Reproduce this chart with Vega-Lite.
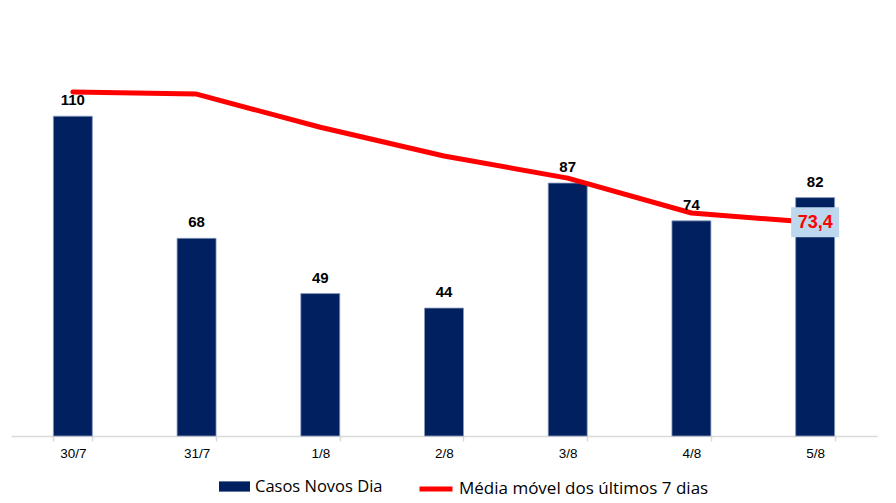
{
  "$schema": "https://vega.github.io/schema/vega-lite/v6.json",
  "width": 866,
  "height": 407,
  "padding": {"left": 11, "top": 29, "right": 19, "bottom": 5},
  "background": "white",
  "data": {
    "values": [
      {"dia": "30/7", "casos": 110, "media": 118.3, "serieA": "Casos Novos Dia", "serieB": "Média móvel dos últimos 7 dias"},
      {"dia": "31/7", "casos": 68, "media": 117.6, "serieA": "Casos Novos Dia", "serieB": "Média móvel dos últimos 7 dias"},
      {"dia": "1/8", "casos": 49, "media": 106.2, "serieA": "Casos Novos Dia", "serieB": "Média móvel dos últimos 7 dias"},
      {"dia": "2/8", "casos": 44, "media": 96.3, "serieA": "Casos Novos Dia", "serieB": "Média móvel dos últimos 7 dias"},
      {"dia": "3/8", "casos": 87, "media": 88.7, "serieA": "Casos Novos Dia", "serieB": "Média móvel dos últimos 7 dias"},
      {"dia": "4/8", "casos": 74, "media": 76.7, "serieA": "Casos Novos Dia", "serieB": "Média móvel dos últimos 7 dias"},
      {"dia": "5/8", "casos": 82, "media": 73.4, "serieA": "Casos Novos Dia", "serieB": "Média móvel dos últimos 7 dias", "rotulo": "73,4", "boxTop": 78.7, "boxBottom": 68.4}
    ]
  },
  "encoding": {
    "x": {
      "field": "dia",
      "type": "ordinal",
      "sort": null,
      "scale": {"paddingInner": 0.685, "paddingOuter": 0.3425},
      "axis": {
        "title": null,
        "labelAngle": 0,
        "labelFont": "Liberation Sans",
        "labelFontSize": 13.5,
        "labelColor": "#000000",
        "labelPadding": 5,
        "domainColor": "#d9d9d9",
        "domainWidth": 1.5,
        "tickColor": "#d9d9d9",
        "tickWidth": 1.5,
        "tickSize": 5,
        "tickBand": "extent",
        "ticks": true,
        "grid": false
      }
    }
  },
  "layer": [
    {
      "mark": {"type": "bar", "stroke": "#8a9bbd", "strokeWidth": 0.8},
      "encoding": {
        "y": {"field": "casos", "type": "quantitative", "scale": {"domain": [0, 140], "nice": false}, "axis": null},
        "fill": {
          "field": "serieA",
          "type": "nominal",
          "scale": {"range": ["#002060"]},
          "legend": {
            "title": null,
            "orient": "none",
            "legendX": 208,
            "legendY": 442,
            "symbolType": "M-1,-0.33L1,-0.33L1,0.33L-1,0.33Z",
            "symbolSize": 961,
            "symbolStrokeWidth": 0,
            "labelFont": "Open Sans",
            "labelFontSize": 16.5,
            "labelColor": "#000000",
            "labelLimit": 0,
            "labelOffset": 5
          }
        }
      }
    },
    {
      "mark": {"type": "line", "strokeWidth": 5, "strokeCap": "round", "strokeJoin": "round"},
      "encoding": {
        "y": {"field": "media", "type": "quantitative"},
        "stroke": {
          "field": "serieB",
          "type": "nominal",
          "scale": {"range": ["#ff0000"]},
          "legend": {
            "title": null,
            "orient": "none",
            "legendX": 406,
            "legendY": 441,
            "symbolType": "stroke",
            "symbolSize": 1089,
            "symbolStrokeWidth": 5,
            "labelFont": "Open Sans",
            "labelFontSize": 17,
            "labelColor": "#000000",
            "labelLimit": 0,
            "labelOffset": 4
          }
        }
      }
    },
    {
      "mark": {"type": "text", "font": "Liberation Sans", "fontWeight": "bold", "fontSize": 15, "baseline": "bottom", "dy": -8, "color": "#000000"},
      "encoding": {
        "y": {"field": "casos", "type": "quantitative"},
        "text": {"field": "casos", "type": "quantitative"}
      }
    },
    {
      "transform": [{"filter": "datum.rotulo != null"}],
      "mark": {"type": "bar", "width": 48, "color": "#bdd7ee"},
      "encoding": {
        "y": {"field": "boxTop", "type": "quantitative"},
        "y2": {"field": "boxBottom"}
      }
    },
    {
      "transform": [{"filter": "datum.rotulo != null"}],
      "mark": {"type": "text", "font": "Liberation Sans", "fontWeight": "bold", "fontSize": 18, "baseline": "middle", "color": "#ff0000"},
      "encoding": {
        "y": {"field": "media", "type": "quantitative"},
        "text": {"field": "rotulo"}
      }
    }
  ],
  "resolve": {"scale": {"y": "shared"}},
  "config": {
    "view": {"stroke": null}
  }
}
